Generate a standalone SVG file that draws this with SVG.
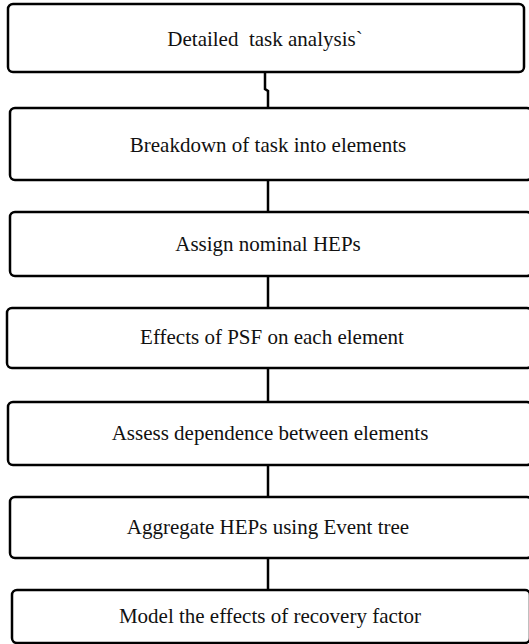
<svg xmlns="http://www.w3.org/2000/svg" width="529" height="644" viewBox="0 0 529 644">
<style>
.box{fill:#fff;stroke:#000;stroke-width:2.5}
.lbl{font-family:"Liberation Serif","Times New Roman",serif;font-size:21px;fill:#111;text-anchor:middle}
.conn{fill:none;stroke:#000;stroke-width:2.5}
</style>
<rect width="529" height="644" fill="#fff"/>
<g id="connectors">
<path class="conn" d="M265,72 V89 L268,91 V108"/>
<path class="conn" d="M268,180 V212"/>
<path class="conn" d="M268,276 V308"/>
<path class="conn" d="M268,368 V402"/>
<path class="conn" d="M268,465 V497"/>
<path class="conn" d="M268,558 V590"/>
</g>
<g id="n1"><rect class="box" x="8" y="4" width="516" height="68" rx="5"/><text class="lbl" x="265" y="46" xml:space="preserve">Detailed  task analysis`</text></g>
<g id="n2"><rect class="box" x="10" y="108" width="522" height="72" rx="5"/><text class="lbl" x="268" y="152">Breakdown of task into elements</text></g>
<g id="n3"><rect class="box" x="10" y="212" width="522" height="64" rx="5"/><text class="lbl" x="268" y="251">Assign nominal HEPs</text></g>
<g id="n4"><rect class="box" x="7" y="308" width="525" height="60" rx="5"/><text class="lbl" x="272" y="344">Effects of PSF on each element</text></g>
<g id="n5"><rect class="box" x="8" y="402" width="524" height="63" rx="5"/><text class="lbl" x="270" y="440">Assess dependence between elements</text></g>
<g id="n6"><rect class="box" x="10" y="497" width="522" height="61" rx="5"/><text class="lbl" x="268" y="534">Aggregate HEPs using Event tree</text></g>
<g id="n7"><rect class="box" x="12" y="590" width="518" height="53" rx="5"/><text class="lbl" x="270" y="623">Model the effects of recovery factor</text></g>
</svg>
